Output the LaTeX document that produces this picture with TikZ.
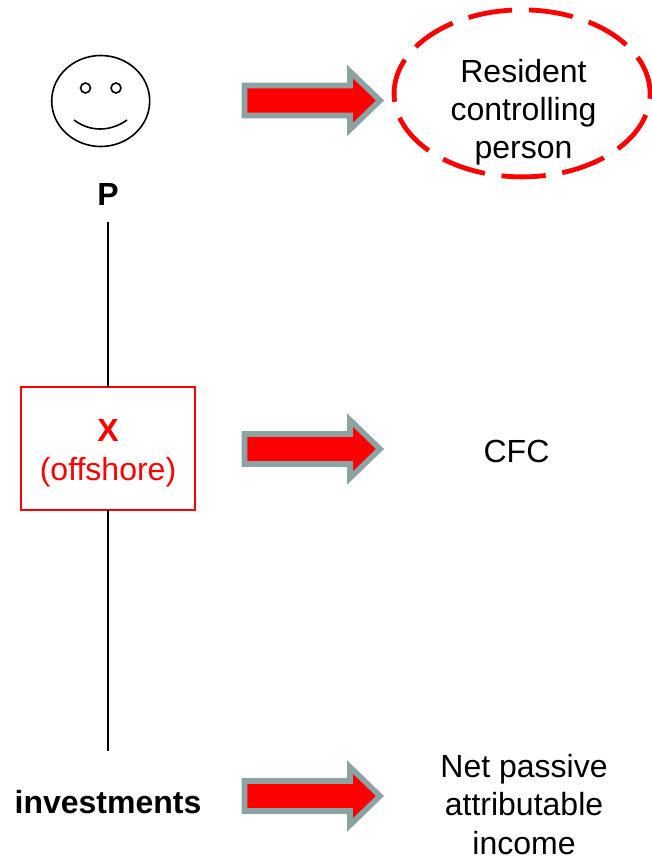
\documentclass[tikz,border=0pt]{standalone}
\usepackage{fontspec}
\setmainfont{Liberation Sans}
\usetikzlibrary{shapes.geometric,calc}
\definecolor{arrowgray}{RGB}{140,163,163}
\tikzset{
  label31/.style={font=\fontsize{24}{28.6}\selectfont,align=center,inner sep=0pt,outer sep=0pt},
  boldlabel/.style={label31,font=\bfseries\fontsize{24}{28.6}\selectfont},
  ink/.style={draw=black,line width=1.2pt},
  conn/.style={draw=black,line width=1pt},
  fat/.style={draw=arrowgray,fill=red,line width=4.2pt,miter limit=10},
  pics/fatarrow/.style={code={
    \draw[fat] (2.5,-15) -- (108,-15) -- (108,-29) -- (138,0) -- (108,29) -- (108,15) -- (2.5,15) -- cycle;
  }}
}
\begin{document}
\begin{tikzpicture}[x=0.75pt,y=-0.75pt]
\useasboundingbox (0,0) rectangle (652,856);
\draw[ink] (100.7,101) ellipse [x radius=49,y radius=45.5];
\draw[ink] (85.5,88) circle [radius=5];
\draw[ink] (116,88) circle [radius=5];
\draw[ink] (74,120) .. controls (90,132) and (110,132) .. (127,120);
\node[boldlabel,minimum height=42pt] (P) at (108,194) {P};
\node[label31,draw=red,line width=1.3pt,text=red,minimum width=131pt,minimum height=92pt] (X) at (108,448.5) {\rule{0pt}{23.8pt}\textbf{X}\\(offshore)};
\node[boldlabel,minimum height=76.5pt] (I) at (108,802) {investments};
\draw[conn] (P) -- (X);
\draw[conn] (X) -- (I);
\node[label31] (R) at (523.5,112) {Resident\\controlling\\person};
\node[label31] (C) at (516.5,451) {CFC};
\node[label31] (N) at (524,804.5) {Net passive\\attributable\\income};
\draw[red,line width=3.6pt,dash pattern=on 33.2pt off 12.6pt] (529,10) arc [start angle=86.9,delta angle=-360,x radius=128,y radius=-83.5];
\pic at (242,100.5) {fatarrow};
\pic at (242,449) {fatarrow};
\pic at (242,796) {fatarrow};
\end{tikzpicture}
\end{document}
